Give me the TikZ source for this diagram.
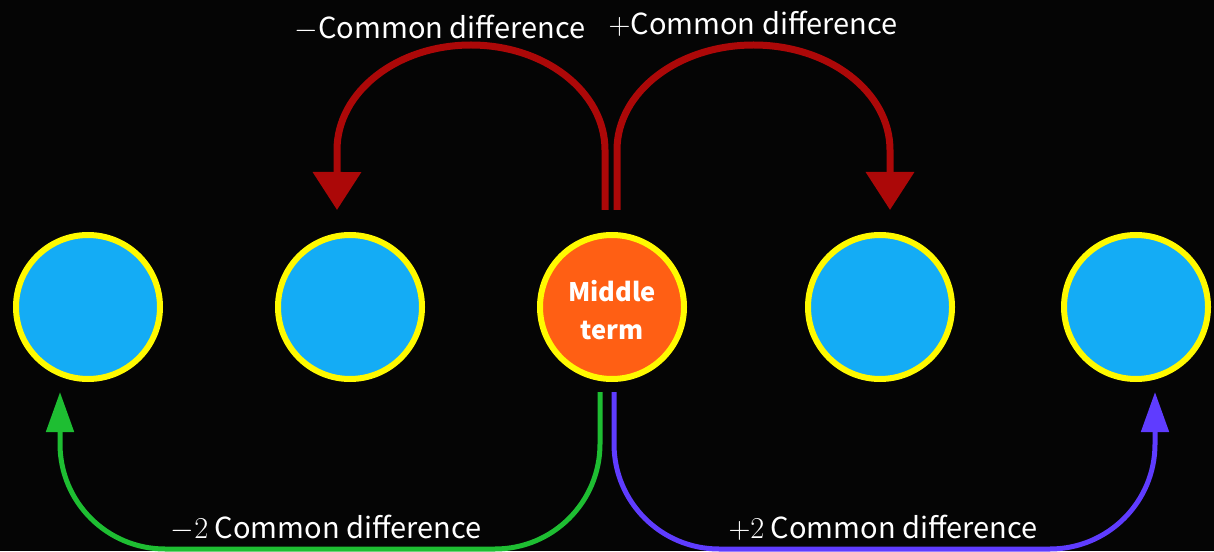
\documentclass[tikz,border=0pt]{standalone}
\usepackage{fontspec}
\setmainfont{Noto Sans CJK JP}
\usepackage{xcolor}
\usepackage{tikz}
\usetikzlibrary{arrows.meta, positioning, calc}
\definecolor{bgblack}{RGB}{5, 5, 5}
\definecolor{termblue}{RGB}{20, 172, 245}
\definecolor{midorange}{RGB}{255, 95, 20}
\definecolor{ringyellow}{RGB}{255, 250, 0}
\definecolor{arrowred}{RGB}{172, 8, 8}
\definecolor{arrowgreen}{RGB}{30, 190, 50}
\definecolor{arrowblue}{RGB}{95, 60, 255}

\begin{document}
\begin{tikzpicture}[
    term/.style={circle, draw=ringyellow, line width=0.12cm, fill=termblue, minimum size=2.88cm, inner sep=0pt},
    redarr/.style={draw=arrowred, line width=0.14cm, -{Triangle[width=0.94cm, length=0.76cm]}},
    bendarr/.style={line width=0.1cm, rounded corners=2.1cm, -{Triangle[width=0.54cm, length=0.8cm]}},
    lbl/.style={white, font=\fontsize{16.5}{19}\selectfont}
]
    % Background
    \fill[bgblack] (0,0) rectangle (24.28,11.02);
    \useasboundingbox (0,0) rectangle (24.28,11.02);

    % The Terms
    \node[term, fill=midorange, text=white, align=center, font=\bfseries\fontsize{14.5}{21.5}\selectfont] (m) at (12.24,4.88) {\rule{0pt}{16pt}Middle\\term};
    \foreach \name/\x in {t1/1.76, t2/7.0, t4/17.6, t5/22.72} {
        \node[term] (\name) at (\x,4.88) {};
    }

    % One step (red)
    \draw[redarr] ([xshift=-0.14cm, yshift=0.44cm]m.north) -- ++(0,1.2)
        arc[start angle=0, end angle=180, x radius=2.68cm, y radius=2.1cm]
        -- ([xshift=-0.26cm, yshift=0.44cm]t2.north);
    \draw[redarr] ([xshift=0.1cm, yshift=0.44cm]m.north) -- ++(0,1.2)
        arc[start angle=180, end angle=0, x radius=2.73cm, y radius=2.1cm]
        -- ([xshift=0.2cm, yshift=0.44cm]t4.north);

    % Two steps (green, blue)
    \draw[bendarr, draw=arrowgreen] ([xshift=-0.24cm, yshift=-0.2cm]m.south) -- ++(0,-3.14)
        -| ([xshift=-0.56cm, yshift=-0.2cm]t1.south);
    \draw[bendarr, draw=arrowblue] ([xshift=0.04cm, yshift=-0.2cm]m.south) -- ++(0,-3.14)
        -| ([xshift=0.38cm, yshift=-0.2cm]t5.south);

    % Labels
    \node[lbl] (lm1) at (8.8,10.46) {$-$Common difference};
    \node[lbl] (lp1) at (15.06,10.54) {$+$Common difference};
    \node[lbl] (lm2) at (6.52,0.46) {$-2$ Common difference};
    \node[lbl] (lp2) at (17.66,0.46) {$+2$ Common difference};
\end{tikzpicture}
\end{document}
